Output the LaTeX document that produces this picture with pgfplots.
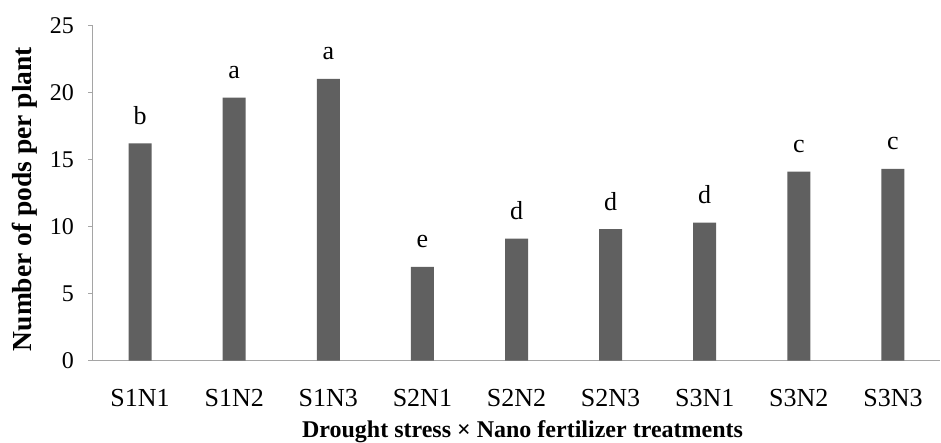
\documentclass[border=0pt]{standalone}
\usepackage{pgfplots}
\pgfplotsset{compat=1.18}
\usepackage{pgfplotstable}
\usepackage{fontspec}
\setmainfont{Liberation Serif}
\definecolor{barc}{RGB}{96,96,96}
\definecolor{axc}{RGB}{165,165,165}
\pgfplotstableread{
x y lab
0 16.2 b
1 19.6 a
2 21.0 a
3 7.0 e
4 9.1 d
5 9.8 d
6 10.3 d
7 14.1 c
8 14.3 c
}\datatable
\begin{document}
\begin{tikzpicture}
\begin{axis}[
  scale only axis,
  width=847pt, height=335.4pt,
  at={(0pt,0pt)}, anchor=south west,
  xmin=-0.5, xmax=8.5,
  ymin=0, ymax=25,
  ytick={0,5,10,15,20,25},
  xtick=data,
  xticklabels={S1N1,S1N2,S1N3,S2N1,S2N2,S2N3,S3N1,S3N2,S3N3},
  axis x line*=bottom,
  axis y line*=left,
  axis line style={axc, line width=1pt},
  tick align=outside,
  major tick length=5pt,
  y tick style={axc, line width=1pt},
  x tick style={draw=none},
  /pgf/number format/assume math mode=true,
  yticklabel style={font=\fontsize{24}{28}\selectfont, anchor=east, inner sep=0pt, xshift=-14pt},
  xticklabel style={font=\fontsize{26}{30}\selectfont, anchor=base, inner sep=0pt, yshift=-41pt},
  xlabel={Drought stress × Nano fertilizer treatments},
  ylabel={Number of pods per plant},
  xlabel style={font=\bfseries\fontsize{24}{28}\selectfont, at={(axis description cs:0.5,0)}, anchor=base, yshift=-77pt, xshift=6pt, inner sep=0pt},
  ylabel style={font=\bfseries\fontsize{27.5}{32}\selectfont, at={(axis description cs:-0.0725,0.482)}, anchor=base, inner sep=0pt},
  nodes near coords,
  point meta=explicit symbolic,
  every node near coord/.append style={anchor=base, yshift=19pt, inner sep=0pt, font=\fontsize{26}{30}\selectfont, black},
  clip=false,
]
\addplot[ybar, bar width=23pt, fill=barc, draw=none] table[x=x, y=y, meta=lab] {\datatable};
\end{axis}
\path[use as bounding box] (-93pt,-80.3pt) rectangle (848pt,360.7pt);
\end{tikzpicture}
\end{document}
